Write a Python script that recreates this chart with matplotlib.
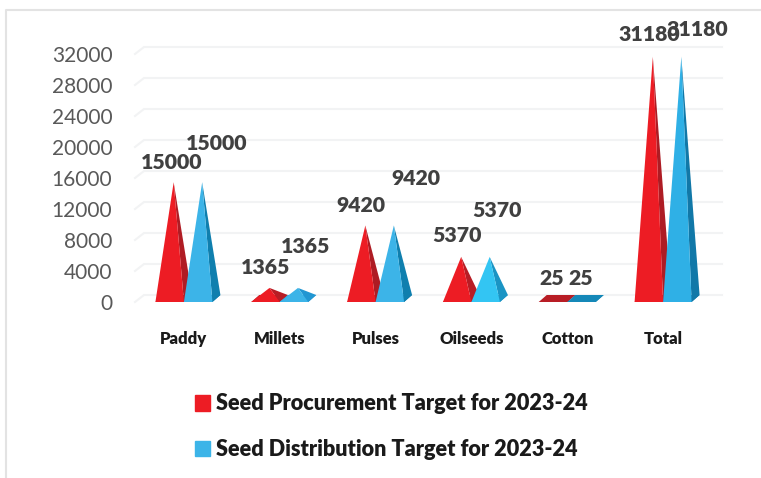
import matplotlib
matplotlib.use('Agg')
import matplotlib.pyplot as plt
from matplotlib.lines import Line2D
from matplotlib.patches import Patch

categories = ['Paddy', 'Millets', 'Pulses', 'Oilseeds', 'Cotton', 'Total']
procurement = [15000, 1365, 9420, 5370, 25, 31180]
distribution = [15000, 1365, 9420, 5370, 25, 31180]
yticks = [0, 4000, 8000, 12000, 16000, 20000, 24000, 28000, 32000]
legend_names = ['Seed Procurement Target for 2023-24',
                'Seed Distribution Target for 2023-24']

W, H = 761, 478
# plot area in pixels, front edge of the 3d floor
LEFT, RIGHT, TOP, BOTTOM = 136, 711, 54, 302
cat_px = (RIGHT - LEFT) / 6.0
val_px = (BOTTOM - TOP) / 32000.0
DX = 8 / cat_px   # depth of the chart, in data units
DY = 7 / val_px
BAR = 28.5 / cat_px

# cotton is so flat that only the dark top shows
red = ['#ed1c24', '#ed1c24', '#ed1c24', '#ed1c24', '#b81d25', '#ed1c24']
red_side = ['#b01c24', '#b81d25', '#ae1c24', '#b81d25', '#b81d25', '#ae1c24']
blue = ['#3cb4e8', '#3cb4e8', '#3cb4e8', '#33c5f3', '#1588b8', '#2fb0e6']
blue_side = ['#0f7fae', '#2196d2', '#0f7fae', '#1a94c4', '#1588b8', '#1178a8']

# label offsets from the apex position, pixels
red_off = [(-2, 20), (-4, 20), (-4, 20), (-4, 21), (-5, 20), (-4, 22)]
blue_off = [(14, 39), (8, 41), (22, 47), (7, 46), (-5, 20), (16, 27)]


def pyramid(ax, x, v, face, side):
    lf = (x, 0)
    rf = (x + BAR, 0)
    lb = (x + DX, DY)
    rb = (x + BAR + DX, DY)
    apex = (x + BAR / 2 + DX / 2, v + DY / 2)
    ax.fill(*zip(lf, lb, rb, rf), color=side, lw=0, clip_on=False, zorder=3)
    ax.fill(*zip(rf, apex, rb), color=side, lw=0, clip_on=False, zorder=3)
    ax.fill(*zip(lf, apex, rf), color=face, lw=0, clip_on=False, zorder=3)


fig = plt.figure(figsize=(W / 100, H / 100), dpi=100)
plt.rcParams['font.family'] = ['Lato', 'DejaVu Sans']
ax = fig.add_axes([LEFT / W, 1 - BOTTOM / H, (RIGHT - LEFT) / W, (BOTTOM - TOP) / H])
ax.set_xlim(-0.5, 5.5)
ax.set_ylim(0, 32000)
for s in ax.spines.values():
    s.set_visible(False)

for t in yticks:
    ax.plot([-0.5 - 1 / cat_px, -0.5 + DX, 5.5 + DX + 3 / cat_px], [t, t + DY, t + DY],
            color='#f2f3f4', lw=1.5, clip_on=False, zorder=1, solid_joinstyle='miter')

for i in range(len(categories)):
    pyramid(ax, i - BAR, procurement[i], red[i], red_side[i])
    pyramid(ax, i, distribution[i], blue[i], blue_side[i])
    for x, v, off in [(i - BAR, procurement[i], red_off[i]), (i, distribution[i], blue_off[i])]:
        ax.annotate(str(v), (x + BAR / 2 + DX / 2, v + DY / 2),
                    xytext=(off[0] * 0.72, off[1] * 0.72), textcoords='offset points',
                    ha='center', va='center', fontsize=15.3, fontweight='heavy',
                    color='#404040', zorder=5, annotation_clip=False)

ax.set_yticks(yticks)
ax.set_yticklabels([str(t) for t in yticks], fontsize=15, color='#595959')
ax.set_xticks(range(len(categories)))
ax.set_xticklabels(categories, fontsize=12, fontweight='heavy', color='#1a1a1a')
ax.tick_params(axis='y', length=0, pad=17)
ax.tick_params(axis='x', length=0, pad=21)

handles = [Patch(color='#ed1c24'), Patch(color='#3cb4e8')]
fig.legend(handles, legend_names, loc='upper left',
           bbox_to_anchor=(175 / W, 1 - 374 / H), frameon=False,
           prop={'size': 15.6, 'weight': 'heavy'}, labelcolor='#1a1a1a',
           handlelength=0.7, handleheight=0.7, handletextpad=0.3, labelspacing=1.15)

# frame of the pasted picture, only top and left survive
fig.add_artist(Line2D([6 / W, 6 / W, 1], [0, 1 - 10 / H, 1 - 10 / H],
                      color='#e3e3e3', lw=1.5, transform=fig.transFigure))

fig.savefig('out.png', dpi=100)
